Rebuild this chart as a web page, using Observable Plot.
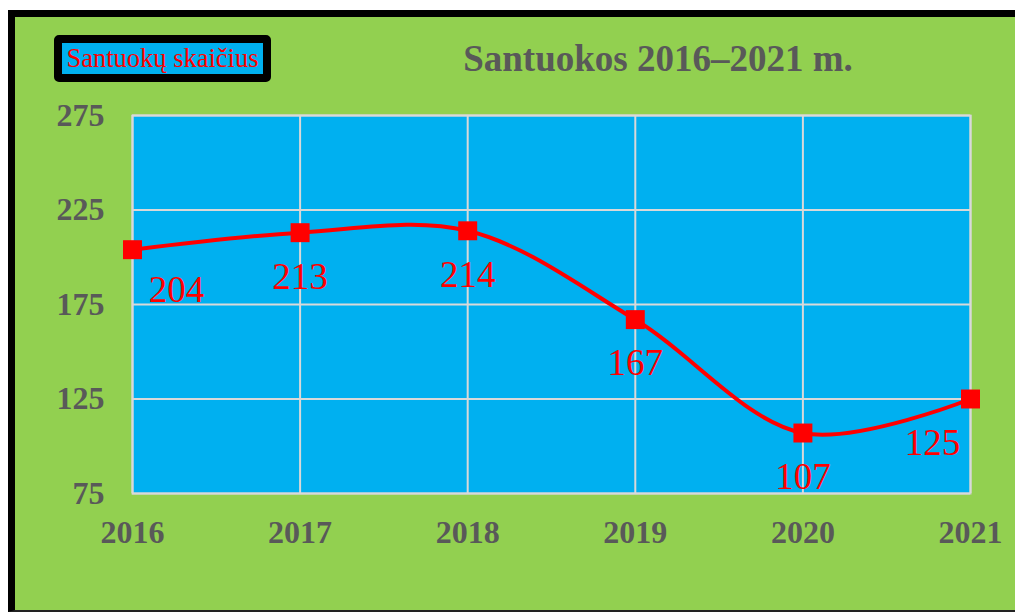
<!DOCTYPE html>
<html>
<head>
<meta charset="utf-8">
<script src="https://cdn.jsdelivr.net/npm/d3@7"></script>
<script src="https://cdn.jsdelivr.net/npm/@observablehq/plot@0.6"></script>
<style>
  html, body { margin: 0; padding: 0; background: #fff; width: 1015px; height: 612px; overflow: hidden; }
  #frame {
    position: absolute; left: 8px; top: 10px; width: 1100px; height: 593px;
    border-left: 7px solid #000; border-top: 7px solid #000; border-bottom: 2px solid #222;
    background: #92D050;
  }
  #chart { position: absolute; left: 0; top: 0; }
  #title {
    position: absolute; left: 358px; top: 40px; width: 600px; text-align: center;
    font-family: "Liberation Serif", "Times New Roman", serif; font-weight: bold;
    font-size: 37px; line-height: 1; color: #595959; white-space: nowrap;
  }
  #legend {
    position: absolute; left: 54px; top: 35px; width: 217px; height: 47px; box-sizing: border-box;
    border: 8px solid #000; border-radius: 5px; background: #00B0F0;
    display: flex; align-items: center; justify-content: center;
    font-family: "Liberation Serif", "Times New Roman", serif; font-size: 26.5px; color: #FF0000;
    white-space: nowrap;
  }
</style>
</head>
<body>
<div id="frame"></div>
<div id="chart"></div>
<div id="title">Santuokos 2016–2021 m.</div>
<div id="legend">Santuokų skaičius</div>
<script>
const years = [2016, 2017, 2018, 2019, 2020, 2021];
const marriages = [204, 213, 214, 167, 107, 125];
const yTicks = [75, 125, 175, 225, 275];
const seriesName = "Santuokų skaičius";

const data = years.map((year, i) => ({ year, value: marriages[i], series: seriesName }));
const first = data.slice(0, 1);
const middle = data.slice(1, data.length - 1);
const last = data.slice(data.length - 1);

const serif = "'Liberation Serif', 'Times New Roman', serif";
const red = "#FF0000";

const chart = Plot.plot({
  width: 1015,
  height: 612,
  marginLeft: 132,
  marginRight: 45,
  marginTop: 115,
  marginBottom: 119,
  style: { background: "transparent", color: "#595959", fontFamily: serif, overflow: "visible" },
  x: { type: "linear", domain: [2016, 2021], ticks: years },
  y: { domain: [75, 275], ticks: yTicks },
  marks: [
    Plot.frame({ fill: "#00B0F0", stroke: "#D0D0D0", strokeWidth: 2 }),
    Plot.gridX(years, { stroke: "#D9D9D9", strokeWidth: 2, strokeOpacity: 1 }),
    Plot.gridY(yTicks, { stroke: "#D9D9D9", strokeWidth: 2, strokeOpacity: 1 }),
    Plot.axisY(yTicks, { tickSize: 0, tickPadding: 28, fontSize: 32, fontWeight: "bold", fontFamily: serif, label: null }),
    Plot.axisX(years, { tickSize: 0, tickPadding: 27, fontSize: 32, fontWeight: "bold", fontFamily: serif, tickFormat: d => String(d), label: null }),
    Plot.line(data, { x: "year", y: "value", curve: "catmull-rom", stroke: red, strokeWidth: 4 }),
    Plot.dot(data, { x: "year", y: "value", symbol: "square", r: 10.7, fill: red, stroke: "none" }),
    Plot.text(first, { x: "year", y: "value", text: d => String(d.value), dx: 44, dy: 40, fill: red, fontSize: 37, fontFamily: serif }),
    Plot.text(middle, { x: "year", y: "value", text: d => String(d.value), dy: 44, fill: red, fontSize: 37, fontFamily: serif }),
    Plot.text(last, { x: "year", y: "value", text: d => String(d.value), dx: -38, dy: 44, fill: red, fontSize: 37, fontFamily: serif })
  ]
});
document.getElementById("chart").appendChild(chart);
</script>
</body>
</html>
